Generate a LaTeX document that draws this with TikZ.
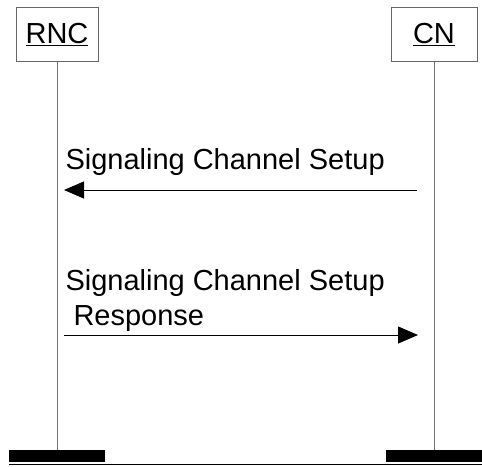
\documentclass[tikz,border=0pt]{standalone}
\usepackage{fontspec}
\setmainfont{Liberation Sans}
\usetikzlibrary{arrows.meta}

\begin{document}
\begin{tikzpicture}[x=1pt,y=-1pt,line width=1pt]
	\tikzstyle{entity}=[draw=black!60,minimum width=82pt,minimum height=54pt,inner sep=0pt,font=\fontsize{29}{34}\selectfont]
	\tikzstyle{lifeline}=[draw=black!55]
	\tikzstyle{endbar}=[fill=black,minimum width=96pt,minimum height=12pt,inner sep=0pt]
	\tikzstyle{msg}=[draw=black,-{Triangle[length=20pt,width=17pt]}]
	\tikzstyle{annot}=[inner sep=0pt,align=left,font=\fontsize{29}{35}\selectfont]

	\useasboundingbox (0,0) rectangle (482,466);

	% Draw the entities
	\node[entity] (RNC) at (57,34.5) {\underline{RNC}};
	\node[entity, minimum width=86pt] (CN) at (434,34.5) {\underline{CN}};

	% Draw the end bars
	\node[endbar] (E-RNC) at (57,456) {};
	\node[endbar] (E-CN) at (434,456) {};

	% Draw the lifelines
	\path[lifeline] (RNC.south) -- (E-RNC.north);
	\path[lifeline] (CN.south) -- (E-CN.north);

	% Bottom rule
	\coordinate (B-L) at (9,464);
	\coordinate (B-R) at (482,464);
	\draw (B-L) -- (B-R);

	% Message ends
	\coordinate (M1-CN) at (417,190);
	\coordinate (M1-RNC) at (64,190);
	\coordinate (M2-RNC) at (64,335);
	\coordinate (M2-CN) at (418,335);

	% Connect the messages
	\path[msg] (M1-CN) -- (M1-RNC);
	\path[msg] (M2-RNC) -- (M2-CN);

	% Annotate the messages
	\node[annot,anchor=base west] (L-1) at (65,169) {Signaling Channel Setup};
	\node[annot,anchor=base west] (L-2) at (65,325) {Signaling Channel Setup\\\ Response};

\end{tikzpicture}
\end{document}
